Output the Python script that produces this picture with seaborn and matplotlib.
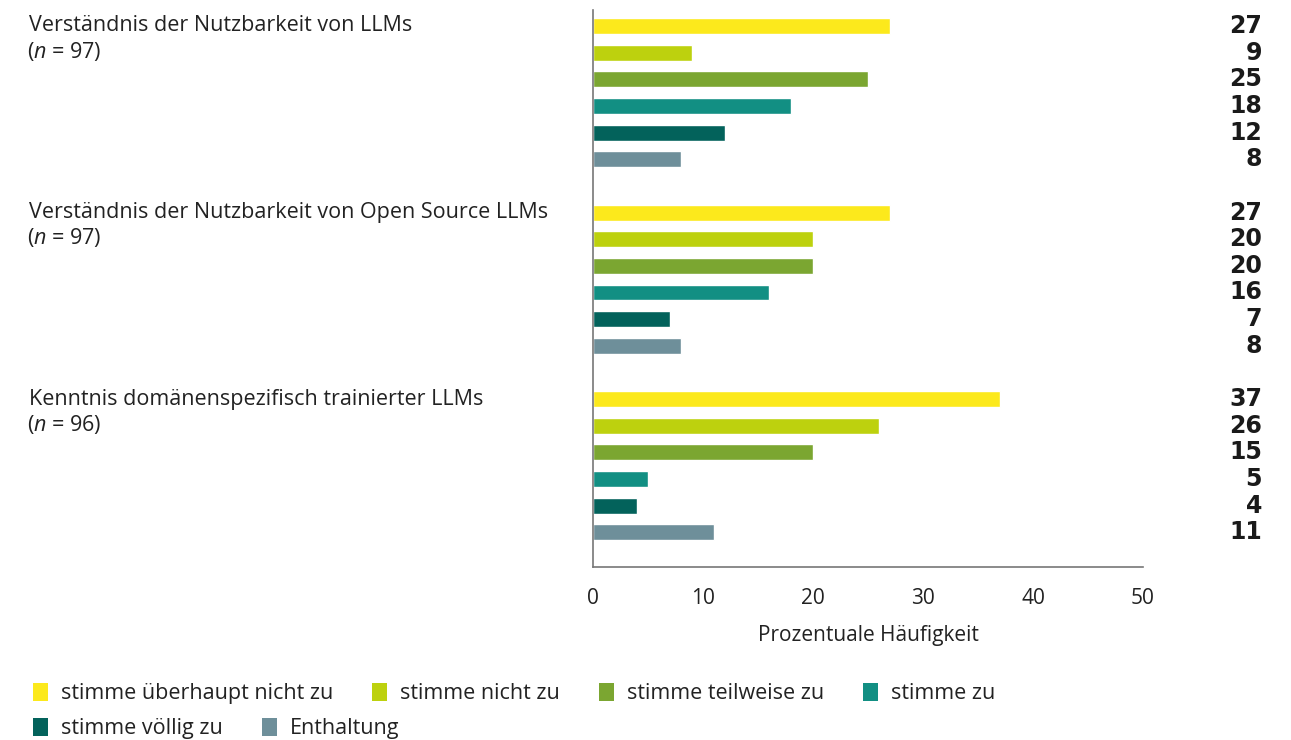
import matplotlib
matplotlib.use("Agg")
import matplotlib.pyplot as plt
import matplotlib.transforms as mtransforms
from matplotlib.patches import Patch
import seaborn as sns
import pandas as pd

sns.set_theme(style="white")
plt.rcParams["font.family"] = ["Open Sans", "DejaVu Sans"]
plt.rcParams["mathtext.fontset"] = "custom"
plt.rcParams["mathtext.it"] = "Open Sans:italic"
plt.rcParams["mathtext.rm"] = "Open Sans"

groups = ["Verständnis der Nutzbarkeit von LLMs",
          "Verständnis der Nutzbarkeit von Open Source LLMs",
          "Kenntnis domänenspezifisch trainierter LLMs"]
group_n = [97, 97, 96]
categories = ["stimme überhaupt nicht zu", "stimme nicht zu", "stimme teilweise zu",
              "stimme zu", "stimme völlig zu", "Enthaltung"]
values_g1 = [27, 9, 25, 18, 12, 8]
values_g2 = [27, 20, 20, 16, 7, 8]
values_g3 = [37, 26, 20, 5, 4, 11]
labels_g1 = ["27", "9", "25", "18", "12", "8"]
labels_g2 = ["27", "20", "20", "16", "7", "8"]
labels_g3 = ["37", "26", "15", "5", "4", "11"]
colors = ["#FCE91C", "#BDD10E", "#7BA631", "#128F83", "#03625B", "#6E8F9A"]

all_vals = [values_g1, values_g2, values_g3]
all_labels = [labels_g1, labels_g2, labels_g3]

rows = []
for gi, (vals, labs) in enumerate(zip(all_vals, all_labels)):
    for ci, (v, lab) in enumerate(zip(vals, labs)):
        rows.append({"group": groups[gi], "category": categories[ci],
                     "value": v, "label": lab, "pos": gi * 7 + ci})
df = pd.DataFrame(rows)

fig = plt.figure(figsize=(12.91, 7.40), dpi=100)
ax = fig.add_axes([593 / 1291, 1 - 567 / 740, 550 / 1291, (567 - 10) / 740])

sns.barplot(data=df, x="value", y="pos", hue="category", hue_order=categories,
            palette=colors, orient="h", native_scale=True, dodge=False,
            width=0.6, ax=ax, legend=False, saturation=1)

ax.set_xlim(0, 50)
ax.set_ylim(20.3, -0.6)
ax.set_xticks([0, 10, 20, 30, 40, 50])
ax.set_yticks([])
ax.set_ylabel("")
ax.set_xlabel("Prozentuale Häufigkeit", fontsize=15, color="#222222", labelpad=12)
ax.tick_params(axis="x", labelsize=15, colors="#222222", length=0, pad=15)
for s in ["top", "right"]:
    ax.spines[s].set_visible(False)
for s in ["left", "bottom"]:
    ax.spines[s].set_color("#777777")
    ax.spines[s].set_linewidth(1.2)

# value labels
trans = mtransforms.blended_transform_factory(ax.transAxes, ax.transData)
for _, r in df.iterrows():
    ax.text((1262 - 593) / 550, r["pos"], r["label"], transform=trans,
            ha="right", va="center", fontsize=17, fontweight="bold",
            color="#1a1a1a", family=["DejaVu Sans"])

# group labels
ftrans = mtransforms.blended_transform_factory(fig.transFigure, ax.transData)
for gi, g in enumerate(groups):
    fig.text(29 / 1291, gi * 7, g, transform=ftrans, ha="left", va="center",
             fontsize=15.5, color="#222222")
    fig.text(27 / 1291, gi * 7 + 0.95, f"($n$ = {group_n[gi]})", transform=ftrans,
             ha="left", va="center", fontsize=15.5, color="#222222")

# legend: two flowing rows
handles = [Patch(facecolor=c, edgecolor="none") for c in colors]
leg_kw = dict(loc="upper left", frameon=False, fontsize=15.5, handlelength=0.7,
              handleheight=0.85, handletextpad=0.6, columnspacing=1.8,
              labelcolor="#222222")
fig.legend(handles[:4], categories[:4], ncol=4,
           bbox_to_anchor=(14 / 1291, 1 - 664 / 740), **leg_kw)
fig.legend(handles[4:], categories[4:], ncol=2,
           bbox_to_anchor=(14 / 1291, 1 - 699 / 740), **leg_kw)

fig.savefig("out.png", dpi=100)
